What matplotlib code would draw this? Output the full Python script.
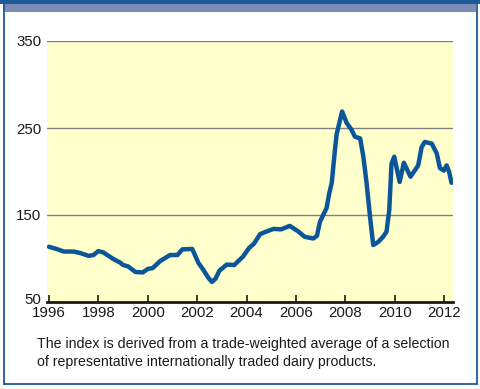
import matplotlib.pyplot as plt
import matplotlib.transforms as mtransforms
from matplotlib.patches import Rectangle
from matplotlib.lines import Line2D

# ========= Dairy price index, 1996-2012 ===================

years = [1996.0, 1996.3, 1996.6, 1997.0, 1997.3, 1997.6, 1997.8, 1998.0, 1998.2,
         1998.6, 1998.9, 1999.0, 1999.2, 1999.5, 1999.8, 2000.0, 2000.2, 2000.5,
         2000.9, 2001.2, 2001.4, 2001.8, 2002.05, 2002.25, 2002.45, 2002.6, 2002.75,
         2002.9, 2003.2, 2003.5, 2003.85, 2004.1, 2004.3, 2004.55, 2004.8, 2005.1,
         2005.4, 2005.75, 2006.1, 2006.35, 2006.7, 2006.85, 2006.97, 2007.24, 2007.35,
         2007.45, 2007.58, 2007.65, 2007.75, 2007.87, 2008.05, 2008.25, 2008.39,
         2008.6, 2008.73, 2008.86, 2009.0, 2009.13, 2009.33, 2009.53, 2009.67,
         2009.78, 2009.87, 2009.98, 2010.2, 2010.37, 2010.64, 2010.95, 2011.09,
         2011.22, 2011.5, 2011.7, 2011.83, 2011.99, 2012.1, 2012.2, 2012.3]
index = [113.5, 111, 108, 108, 106, 103, 104, 108.5, 107,
         99.5, 95, 92.5, 91, 84.5, 84, 88, 89, 97,
         104, 104, 110.5, 111, 95, 87, 78, 73, 77,
         86, 93, 92.5, 102, 112, 117, 128, 131, 134,
         133.5, 137.5, 131, 125, 123, 126, 142, 158, 175,
         187, 225, 243, 255, 269, 256, 248, 240,
         238, 217, 187, 148, 115.5, 119, 125, 131,
         156, 209, 217, 188, 210, 194, 207, 228,
         234, 232, 221, 204, 201, 207, 200, 187]

year_ticks = list(range(1996, 2013, 2))
value_ticks = [50, 150, 250, 350]
caption = ("The index is derived from a trade-weighted average of a selection\n"
           "of representative internationally traded dairy products.")

plt.rcParams['font.family'] = ['Liberation Sans', 'DejaVu Sans']

fig = plt.figure(figsize=[4.8, 3.89], dpi=100)
W, H = 480.0, 389.0

# frame around the panel
fig.add_artist(Rectangle((0, 1 - 4 / H), 1, 4 / H, transform=fig.transFigure,
                         color='#1d5a97', lw=0))
fig.add_artist(Rectangle((3 / W, 1 - 12 / H), 473 / W, 8 / H,
                         transform=fig.transFigure, color='#7c8bb7', lw=0))
border = '#1d5a97'
fig.add_artist(Line2D([3.5 / W, 3.5 / W], [1 - 384 / H, 1 - 4 / H],
                      transform=fig.transFigure, color=border, lw=1.3))
fig.add_artist(Line2D([476.5 / W, 476.5 / W], [1 - 384 / H, 1 - 4 / H],
                      transform=fig.transFigure, color=border, lw=1.3))
fig.add_artist(Line2D([3.5 / W, 476.5 / W], [1 - 383.5 / H, 1 - 383.5 / H],
                      transform=fig.transFigure, color=border, lw=1.3))

ax = fig.add_axes([47 / W, 1 - 302 / H, 406 / W, 261 / H])
ax.set_facecolor('#ffffcc')
ax.plot(years, index, color='#0b5599', lw=3.2, solid_joinstyle='round',
        solid_capstyle='round', zorder=3)

ax.set_xlim(1995.92, 2012.36)
ax.set_ylim(50, 350)
ax.set_xticks(year_ticks)
ax.set_yticks(value_ticks)
for v in value_ticks[1:]:
    ax.axhline(v, color='#808080', lw=1.0, zorder=1)

for s in ['top', 'right', 'left']:
    ax.spines[s].set_visible(False)
ax.spines['bottom'].set_linewidth(2.0)
ax.spines['bottom'].set_color('#1a1a1a')
ax.spines['bottom'].set_zorder(4)

ax.tick_params(axis='x', direction='in', length=5, width=1.2, pad=3,
               labelsize=10.8, colors='#1a1a1a')
ax.tick_params(axis='y', length=0, pad=4, labelsize=10.8, colors='#1a1a1a')

# lift the bottom "50" label a little so it clears the year labels
fig.canvas.draw()
lab50 = ax.get_yticklabels()[0]
lab50.set_transform(lab50.get_transform() +
                    mtransforms.ScaledTranslation(0, 3 / 100, fig.dpi_scale_trans))

fig.text(37 / W, 1 - 353 / H, caption, fontsize=10.2, color='#1a1a1a',
         linespacing=1.3, va='center', ha='left')

plt.savefig('out.png', dpi=100)
plt.close(fig)
